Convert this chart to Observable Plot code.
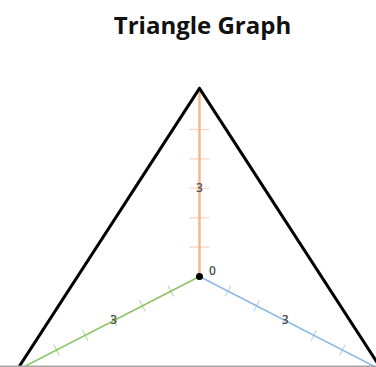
<!DOCTYPE html>
<html><head><meta charset="utf-8">
<script src="https://cdn.jsdelivr.net/npm/d3@7"></script>
<script src="https://cdn.jsdelivr.net/npm/@observablehq/plot@0.6"></script>
<style>html,body{margin:0;padding:0;background:#fff;} svg{display:block;}</style>
</head><body><div id="chart"></div>
<script>
// ---- data ----
const title = "Triangle Graph";
const axisNames = ["A", "B", "C"];
const axisMax = 6.4;
const tickValues = [1, 2, 3, 4, 5];
const labelValues = [3];
const originLabel = "0";

// ---- geometry & style ----
const angles = {A: 90, B: 210, C: 330};
const colors = {A: "#f6b78a", B: "#8fc466", C: "#8fb9e3"};
const widths = {A: 2.5, B: 1.6, C: 1.6};
const tickHalf = {A: 10, B: 6, C: 6};

const W = 376, H = 367, mb = 1;
const xDomain = [-6.03, 5.364];
const yDomain = [-3.061, 9.388];
const kx = W / (xDomain[1] - xDomain[0]);
const ky = (H - mb) / (yDomain[1] - yDomain[0]);

function pt(n, v) {
  const a = angles[n] * Math.PI / 180;
  return [v * Math.cos(a), v * Math.sin(a)];
}

const axisLines = axisNames.map(n => {
  const [x2, y2] = pt(n, axisMax);
  return {n, x1: 0, y1: 0, x2, y2};
});
const triangle = axisNames.map(n => { const [x, y] = pt(n, axisMax); return {x, y}; });
triangle.push(triangle[0]);

const ticks = axisNames.flatMap(n => tickValues.map(v => {
  const [x, y] = pt(n, v);
  const a = angles[n] * Math.PI / 180;
  const dx = Math.cos(a) * kx, dy = Math.sin(a) * ky, len = Math.hypot(dx, dy);
  const px = -dy / len, py = dx / len, h = tickHalf[n];
  return {n, x1: x - px * h / kx, y1: y - py * h / ky, x2: x + px * h / kx, y2: y + py * h / ky};
}));

const labels = axisNames.flatMap(n => labelValues.map(v => {
  const [x, y] = pt(n, v);
  return {x, y, text: String(v)};
}));

const chart = Plot.plot({
  width: W, height: H,
  marginTop: 0, marginRight: 0, marginLeft: 0, marginBottom: mb,
  x: {domain: xDomain, axis: null},
  y: {domain: yDomain, axis: null},
  color: {type: "identity"},
  marks: [
    Plot.link(ticks, {x1: "x1", y1: "y1", x2: "x2", y2: "y2", stroke: d => colors[d.n], strokeOpacity: 0.55, strokeWidth: 1.3, clip: true}),
    Plot.link(axisLines, {x1: "x1", y1: "y1", x2: "x2", y2: "y2", stroke: d => colors[d.n], strokeWidth: d => widths[d.n], clip: true}),
    Plot.line(triangle, {x: "x", y: "y", stroke: "black", strokeWidth: 3, strokeLinejoin: "miter", clip: true}),
    Plot.text(labels, {x: "x", y: "y", text: "text", fill: "#505050", fontSize: 12, fontWeight: 600, fontFamily: "Open Sans"}),
    Plot.dot([{x: 0, y: 0}], {x: "x", y: "y", r: 3.5, fill: "black"}),
    Plot.text([{x: 0, y: 0, text: originLabel}], {x: "x", y: "y", text: "text", dx: 13, dy: -5, fill: "#505050", fontSize: 12, fontWeight: 600, fontFamily: "Open Sans"}),
    Plot.frame({anchor: "bottom", stroke: "#a6a6a6", strokeWidth: 2}),
    Plot.text([title], {frameAnchor: "top", lineAnchor: "bottom", dy: 33, dx: 14, fontSize: 24, fontWeight: "bold", fontFamily: "Open Sans", fill: "#111"})
  ]
});
document.getElementById("chart").appendChild(chart);
</script>
</body></html>
